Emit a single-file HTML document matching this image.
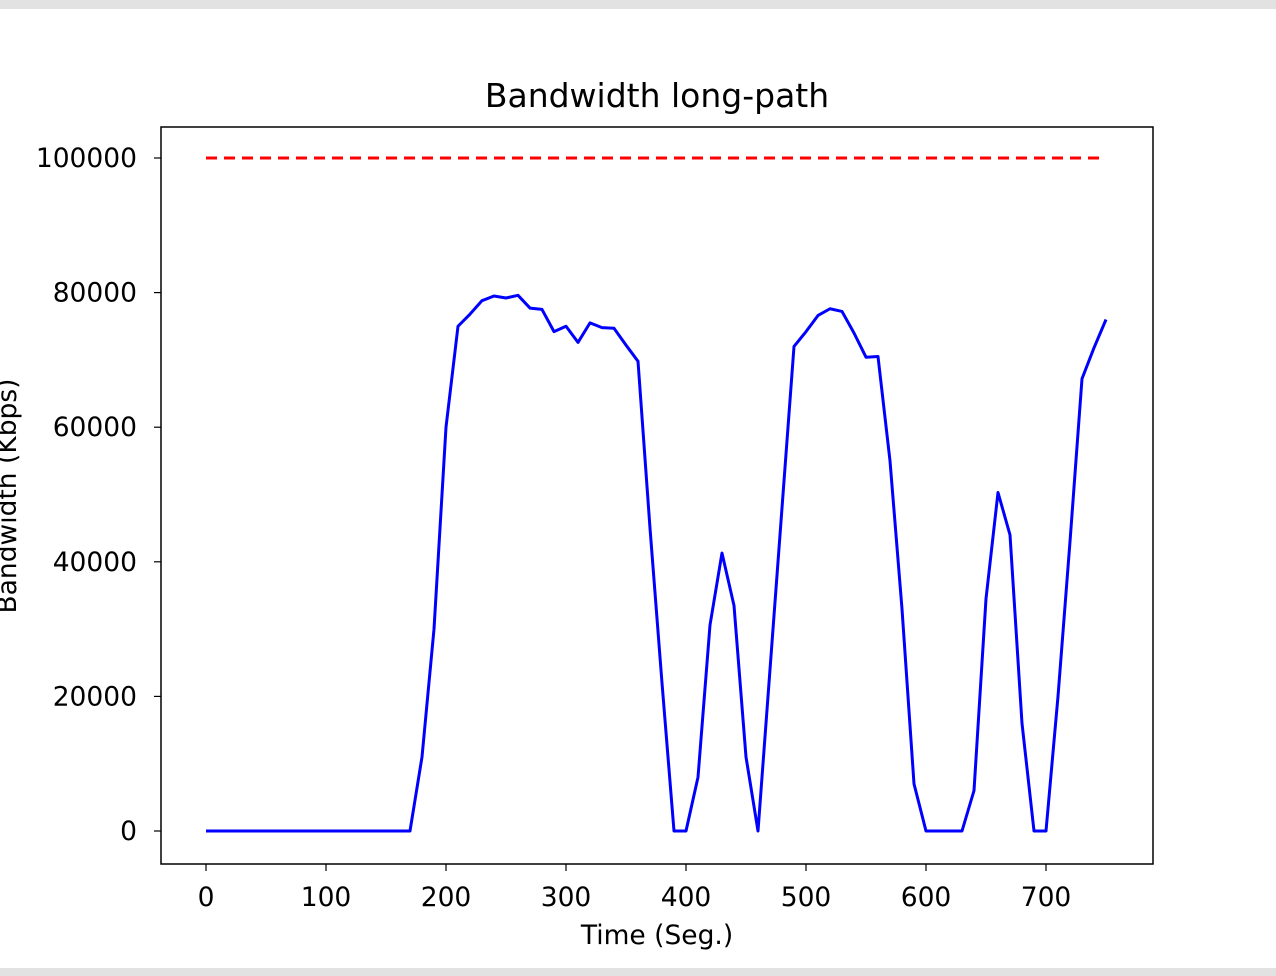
<!DOCTYPE html>
<html><head><meta charset="utf-8"><style>
body{margin:0;background:#fff;width:1276px;height:976px;overflow:hidden;font-family:"DejaVu Sans","Liberation Sans",sans-serif;}
</style></head><body>
<div style="position:absolute;left:0;top:0;width:1276px;height:9px;background:#e2e2e2"></div>
<div style="position:absolute;left:0;top:968px;width:1276px;height:8px;background:#e2e2e2"></div>
<svg id="chart" width="1276" height="976" style="position:absolute;left:0;top:0" font-family="DejaVu Sans, Liberation Sans, sans-serif"></svg>
<script>
const times = [0,10,20,30,40,50,60,70,80,90,100,110,120,130,140,150,160,170,180,190,200,210,220,230,240,250,260,270,280,290,300,310,320,330,340,350,360,370,380,390,400,410,420,430,440,450,460,470,480,490,500,510,520,530,540,550,560,570,580,590,600,610,620,630,640,650,660,670,680,690,700,710,720,730,740,750];
const bandwidth = [0,0,0,0,0,0,0,0,0,0,0,0,0,0,0,0,0,0,11000,30000,60000,75000,76800,78800,79500,79200,79600,77700,77500,74200,75000,72600,75500,74800,74700,72200,69800,45000,22000,0,0,8000,30600,41300,33500,11000,0,24000,48000,72000,74200,76600,77600,77200,74000,70400,70500,55000,33000,7000,0,0,0,0,6000,34500,50300,44000,16000,0,0,20000,43000,67200,71800,76000];
const capacityX = [0,750];
const capacityY = [100000,100000];
const xTicks = [0,100,200,300,400,500,600,700];
const yTicks = [0,20000,40000,60000,80000,100000];

const NS="http://www.w3.org/2000/svg";
const svg=document.getElementById('chart');
const L=161,R=1153,T=127,B=864;
const sx=v=>206+v*1.2;
const sy=v=>831-v*0.00673;
function el(tag,attrs,parent){const e=document.createElementNS(NS,tag);for(const k in attrs)e.setAttribute(k,attrs[k]);(parent||svg).appendChild(e);return e;}

const frame=el('rect',{x:L,y:T,width:R-L,height:B-T,fill:'none',stroke:'#000','stroke-width':1.5});



xTicks.forEach(t=>{
  const g=el('g',{});
  
  
  el('line',{x1:sx(t),x2:sx(t),y1:B,y2:B+7,stroke:'#000','stroke-width':1.2},g);
  const tx=el('text',{x:sx(t),y:906,'text-anchor':'middle','font-size':26.5,fill:'#000'},g);tx.textContent=t;
});
yTicks.forEach(t=>{
  const g=el('g',{});
  
  
  el('line',{x1:L-7,x2:L,y1:sy(t),y2:sy(t),stroke:'#000','stroke-width':1.2},g);
  const tx=el('text',{x:L-24,y:sy(t)+9,'text-anchor':'end','font-size':26.5,fill:'#000'},g);tx.textContent=t;
});

const title=el('text',{x:657,y:107,'text-anchor':'middle','font-size':33,fill:'#000'});
title.textContent='Bandwidth long-path';


const xl=el('text',{x:657,y:944,'text-anchor':'middle','font-size':26.5,fill:'#000'});
xl.textContent='Time (Seg.)';


const yl=el('text',{x:0,y:0,'text-anchor':'middle','font-size':26.5,fill:'#000',transform:'translate(16,496) rotate(-90)'});
yl.textContent='Bandwidth (Kbps)';



const cap=el('polyline',{points:capacityX.map((x,i)=>sx(x)+','+sy(capacityY[i])).join(' '),fill:'none',stroke:'#ff0000','stroke-width':3,'stroke-dasharray':'11,7'});


const bw=el('polyline',{points:times.map((x,i)=>sx(x)+','+sy(bandwidth[i])).join(' '),fill:'none',stroke:'#0000ff','stroke-width':3,'stroke-linejoin':'round'});


</script>
</body></html>
